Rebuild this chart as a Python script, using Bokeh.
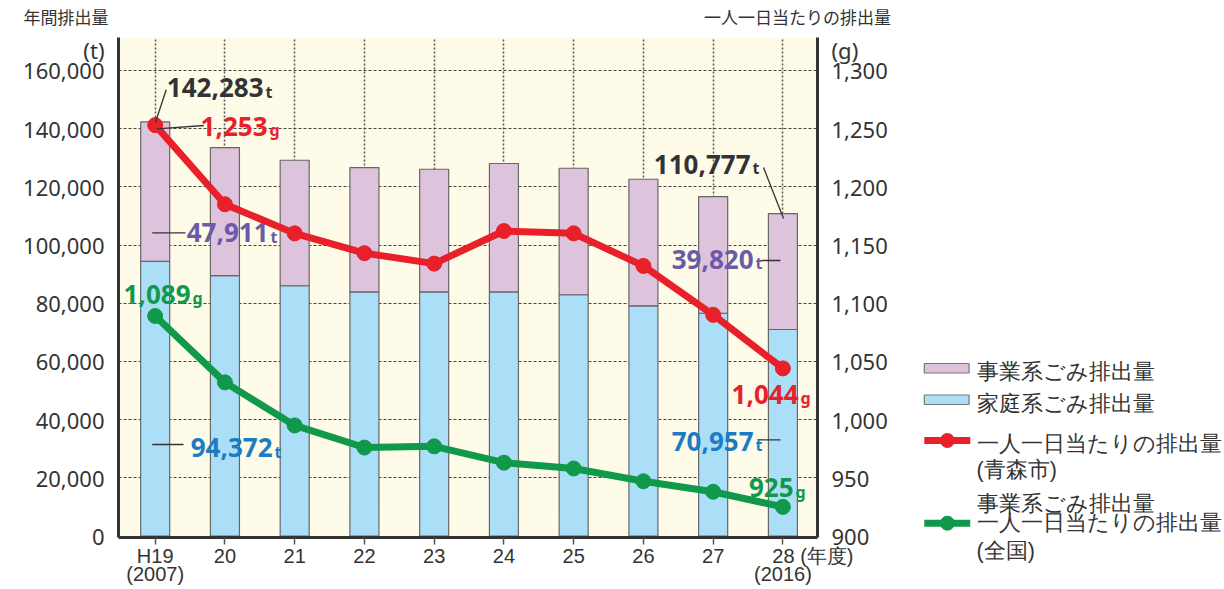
import numpy as np
from bokeh.plotting import figure
from bokeh.models import Range1d, LinearAxis, FixedTicker, NumeralTickFormatter
from bokeh.layouts import row
from bokeh.embed import file_html
from bokeh.resources import INLINE
from bokeh.core.properties import value

# ---------------- data ----------------
years = ["H19", "20", "21", "22", "23", "24", "25", "26", "27", "\u3000\u3000\u300028 (年度)"]
years_ad = {0: "(2007)", 9: "(2016)"}
household_t = [94372, 89450, 86000, 83900, 83900, 83900, 82900, 79100, 76550, 70957]
business_t = [47911, 44040, 43120, 42720, 42130, 44100, 43480, 43500, 40100, 39820]
aomori_g = [1253, 1185, 1160, 1143, 1134, 1162, 1160, 1132, 1090, 1044]
national_g = [1089, 1032, 995, 976, 977, 963, 958, 947, 938, 925]
left_ticks = [0, 20000, 40000, 60000, 80000, 100000, 120000, 140000, 160000]
right_ticks = [900, 950, 1000, 1050, 1100, 1150, 1200, 1250, 1300]
legend_labels = ["事業系ごみ排出量", "家庭系ごみ排出量", "一人一日当たりの排出量", "(青森市)",
                 "事業系ごみ排出量", "一人一日当たりの排出量\n(全国)"]

xs = list(range(len(years)))
totals = (np.array(household_t) + np.array(business_t)).tolist()

JP = "Noto Sans CJK JP"
NUM = "Noto Sans"
LAT = "Liberation Sans"
DARK = "#333333"
RED = "#e8202a"
GREEN = "#10994a"
PURPLE = "#6a5aa8"
BLUE = "#1b7bc4"
PINK_F = "#dec3dc"
BLUE_F = "#abdff7"

# ---------------- main figure ----------------
FL, FR, FT, FB = 118, 817, 37, 537   # frame edges on the page
W, H = 892, 589
X0, X1 = -0.526, 9.496
Y0, Y1 = -515, 171306
p = figure(width=W, height=H, x_range=Range1d(X0, X1), y_range=Range1d(Y0, Y1),
           output_backend="svg", toolbar_location=None,
           min_border_left=FL, min_border_right=W - FR, min_border_top=FT, min_border_bottom=H - FB,
           background_fill_color="#fffbe9", border_fill_color="white", outline_line_color=None)
p.extra_y_ranges = {"g": Range1d(900 + Y0 * 400 / 160000, 900 + Y1 * 400 / 160000)}
p.extra_x_ranges = {"page": Range1d(FL, FR)}

def px2x(px):
    return X0 + (px - FL) / ((FR - FL) / (X1 - X0))

def py2y(py):
    return Y0 + (FB - py) * (Y1 - Y0) / (FB - FT)

# unit captions sit on the y axes, just above the top tick
T_UNIT = 167000
G_UNIT = 900 + T_UNIT * 400 / 160000

p.yaxis.ticker = FixedTicker(ticks=left_ticks + [T_UNIT])
p.yaxis.formatter = NumeralTickFormatter(format="0,0")
p.yaxis.major_label_overrides = {T_UNIT: "(t)"}

xa = p.xaxis[0]
xa.ticker = FixedTicker(ticks=xs)
xa.major_label_overrides = {i: years[i] for i in xs}

raxis = LinearAxis(y_range_name="g", ticker=FixedTicker(ticks=right_ticks + [G_UNIT]),
                   formatter=NumeralTickFormatter(format="0,0"),
                   major_label_overrides={G_UNIT: "(g)"})
p.add_layout(raxis, "right")

for ax in [p.yaxis[0], raxis]:
    ax.axis_line_width = 3
    ax.axis_line_color = DARK
    ax.major_tick_line_color = None
    ax.minor_tick_line_color = None
    ax.major_label_text_font = NUM
    ax.major_label_text_font_size = "22px"
    ax.major_label_text_color = DARK
    ax.major_label_standoff = 8

xa.axis_line_width = 3
xa.axis_line_color = DARK
xa.major_tick_line_color = "#555555"
xa.major_tick_line_width = 1.5
xa.major_tick_in = 0
xa.major_tick_out = 7
xa.minor_tick_line_color = None
xa.major_label_text_font = LAT
xa.major_label_text_font_size = "20px"
xa.major_label_text_color = DARK
xa.major_label_standoff = 0

# second row of year labels (western years)
xa2 = LinearAxis(ticker=FixedTicker(ticks=list(years_ad.keys())),
                 major_label_overrides=years_ad)
xa2.axis_line_color = None
xa2.major_tick_line_color = None
xa2.minor_tick_line_color = None
xa2.major_tick_in = 0
xa2.major_tick_out = 0
xa2.major_label_standoff = -7
xa2.major_label_text_font = LAT
xa2.major_label_text_font_size = "20px"
xa2.major_label_text_color = DARK
p.add_layout(xa2, "below")

# captions above the frame, as an axis without line/ticks
top_ticks = [125, 797]
top_text = ["年間排出量" + "\u3000" * 7, "一人一日当たりの排出量"]
tax = LinearAxis(x_range_name="page", ticker=FixedTicker(ticks=top_ticks),
                 major_label_overrides=dict(zip(top_ticks, top_text)))
tax.axis_line_color = None
tax.major_tick_line_color = None
tax.minor_tick_line_color = None
tax.major_label_standoff = 3
tax.major_label_text_font = JP
tax.major_label_text_font_size = "17px"
tax.major_label_text_color = DARK
p.add_layout(tax, "above")

# grids
p.ygrid.ticker = FixedTicker(ticks=left_ticks)
p.ygrid.grid_line_color = "#444444"
p.ygrid.grid_line_dash = "3 2"
p.ygrid.grid_line_width = 1.2
p.xgrid.ticker = FixedTicker(ticks=xs)
p.xgrid.grid_line_color = "#555555"
p.xgrid.grid_line_dash = "2 2"
p.xgrid.grid_line_width = 1.5

# bars
p.vbar(x=xs, bottom=0, top=household_t, width=0.416, fill_color=BLUE_F,
       line_color="#666666", line_width=1.2)
p.vbar(x=xs, bottom=household_t, top=totals, width=0.416, fill_color=PINK_F,
       line_color="#666666", line_width=1.2)

# lines
p.line(xs, national_g, y_range_name="g", line_width=7, color=GREEN)
p.scatter(xs, national_g, y_range_name="g", size=15, color=GREEN)
p.line(xs, aomori_g, y_range_name="g", line_width=7, color=RED)
p.scatter(xs, aomori_g, y_range_name="g", size=15, color=RED)

# leader lines (page px)
leaders = [((155, 121.7), (165.7, 89.3)), ((156.7, 128.3), (203.3, 125)),
           ((151.7, 232.3), (185, 232.3)), ((151.7, 444), (183, 444)),
           ((763, 167), (783, 218)), ((757, 260), (780, 260)), ((757, 439.3), (780, 439.3))]
p.segment(x0=[px2x(a[0]) for a, b in leaders], y0=[py2y(a[1]) for a, b in leaders],
          x1=[px2x(b[0]) for a, b in leaders], y1=[py2y(b[1]) for a, b in leaders],
          line_color=DARK, line_width=1.3)

# data labels: (number, unit, right edge px, baseline px, color)
labels = [
    (f"{totals[0]:,}", "t", 263, 96.5, DARK),
    (f"{aomori_g[0]:,}", "g", 267, 135, RED),
    (f"{business_t[0]:,}", "t", 268, 241.7, PURPLE),
    (f"{national_g[0]:,}", "g", 190, 303, GREEN),
    (f"{household_t[0]:,}", "t", 272, 456.7, BLUE),
    (f"{totals[-1]:,}", "t", 750, 173, DARK),
    (f"{business_t[-1]:,}", "t", 753, 268, PURPLE),
    (f"{aomori_g[-1]:,}", "g", 798, 403, RED),
    (f"{household_t[-1]:,}", "t", 753, 450, BLUE),
    (f"{national_g[-1]:,}", "g", 793, 496.7, GREEN),
]
for num, unit, rx, by, col in labels:
    p.text(x=[px2x(rx)], y=[py2y(by - 9.3)], text=[num], text_align="right", text_baseline="middle",
           text_font=value(NUM), text_font_style="bold", text_font_size="26px", text_color=col)
    p.text(x=[px2x(rx + 2)], y=[py2y(by - 5.5)], text=[unit], text_align="left", text_baseline="middle",
           text_font=value(NUM), text_font_style="bold", text_font_size="16px", text_color=col)

# ---------------- legend figure (page coordinates) ----------------
LX0, LX1 = W, 973
lf = figure(width=1224 - W, height=H, x_range=Range1d(LX0, LX1), y_range=Range1d(FB, FT),
            output_backend="svg", toolbar_location=None,
            min_border_left=0, min_border_right=1224 - LX1, min_border_top=FT, min_border_bottom=H - FB,
            x_axis_location=None, y_axis_location="right", outline_line_color=None,
            background_fill_color="white", border_fill_color="white")
lf.grid.visible = False

leg_y = [371, 403, 443, 469.5, 503, 536.5]
la = lf.yaxis[0]
la.ticker = FixedTicker(ticks=leg_y)
la.major_label_overrides = dict(zip(leg_y, legend_labels))
la.axis_line_color = None
la.major_tick_line_color = None
la.minor_tick_line_color = None
la.major_label_standoff = 0
la.major_label_text_font = LAT
la.major_label_text_font_size = "21.5px"
la.major_label_text_color = DARK

lf.quad(left=[925, 925], right=[971.5, 971.5], top=[363, 394.5], bottom=[372.5, 404],
        fill_color=[PINK_F, BLUE_F], line_color="#777777", line_width=1.2)
lf.line([925, 973], [440, 440], line_width=7, color=RED)
lf.scatter([949], [440], size=14, color=RED)
lf.line([925, 973], [522.7, 522.7], line_width=7, color=GREEN)
lf.scatter([949], [522.7], size=14, color=GREEN)

open("out.html", "w").write(file_html(row(p, lf), INLINE))
